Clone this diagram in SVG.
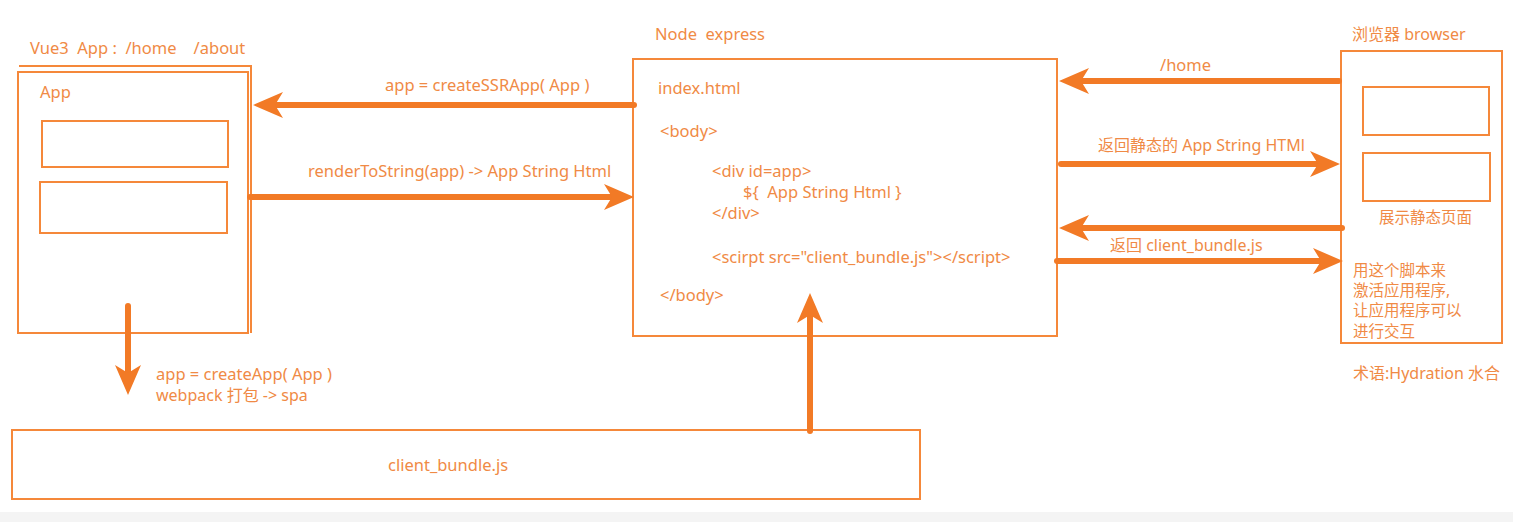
<svg xmlns="http://www.w3.org/2000/svg" width="1513" height="522" viewBox="0 0 1513 522">
<style>
  .box { fill: none; stroke: #F5883A; stroke-width: 2; }
  .arrow { fill: none; stroke: #F27A26; stroke-width: 6; stroke-linecap: round; }
  text { font-family: "Noto Sans", "Noto Sans CJK SC", sans-serif; font-size: 16.5px; fill: #F08A45; white-space: pre; }
  .cjk { font-size: 15.5px; }
  .mix { font-size: 16px; }
</style>
<defs>
  <marker id="head" viewBox="0 -14 32 28" refX="12" refY="0" markerWidth="32" markerHeight="28" markerUnits="userSpaceOnUse" orient="auto">
    <path d="M30,0 L0,-13 L8,0 L0,13 Z" fill="#F27A26"/>
  </marker>
</defs>
<rect width="1513" height="522" fill="#FFFFFF"/>
<rect x="0" y="512" width="1513" height="10" fill="#F4F4F4"/>

<g id="vue-app">
  <text x="30" y="54" xml:space="preserve">Vue3  App :  /home    /about</text>
  <polyline class="box" points="19,66 251,66 251,333"/>
  <rect class="box" x="18" y="72" width="230" height="261"/>
  <text x="40" y="98">App</text>
  <rect class="box" x="42" y="121" width="186" height="46"/>
  <rect class="box" x="40" y="182" width="187" height="51"/>
</g>

<g id="node-express">
  <text x="655" y="40" xml:space="preserve">Node  express</text>
  <rect class="box" x="633" y="59" width="424" height="277"/>
  <text x="658" y="94">index.html</text>
  <text x="660" y="137">&lt;body&gt;</text>
  <text x="712" y="177">&lt;div id=app&gt;</text>
  <text x="743" y="198" xml:space="preserve">${  App String Html }</text>
  <text x="712" y="219">&lt;/div&gt;</text>
  <text x="712" y="263">&lt;scirpt src="client_bundle.js"&gt;&lt;/script&gt;</text>
  <text x="660" y="301">&lt;/body&gt;</text>
</g>

<g id="browser">
  <text class="mix" x="1352" y="40">浏览器 browser</text>
  <rect class="box" x="1341" y="51" width="161" height="292"/>
  <rect class="box" x="1363" y="87" width="126" height="48"/>
  <rect class="box" x="1363" y="153" width="127" height="48"/>
  <text class="cjk" x="1379" y="223">展示静态页面</text>
  <text class="cjk" x="1353" y="276">用这个脚本来</text>
  <text class="cjk" x="1353" y="296">激活应用程序,</text>
  <text class="cjk" x="1353" y="316">让应用程序可以</text>
  <text class="cjk" x="1353" y="337">进行交互</text>
  <text class="mix" x="1353" y="379">术语:Hydration 水合</text>
</g>

<g id="client-bundle">
  <rect class="box" x="12" y="430" width="908" height="69"/>
  <text x="388" y="471">client_bundle.js</text>
</g>

<g id="connectors">
  <line class="arrow" x1="634" y1="105" x2="271" y2="105" marker-end="url(#head)"/>
  <text x="385" y="91">app = createSSRApp( App )</text>
  <line class="arrow" x1="250" y1="197" x2="616" y2="197" marker-end="url(#head)"/>
  <text x="308" y="177">renderToString(app) -&gt; App String Html</text>
  <line class="arrow" x1="1339" y1="81" x2="1077" y2="81" marker-end="url(#head)"/>
  <text x="1160" y="71">/home</text>
  <line class="arrow" x1="1061" y1="164" x2="1322" y2="164" marker-end="url(#head)"/>
  <text class="mix" x="1098" y="151">返回静态的 App String HTMl</text>
  <line class="arrow" x1="1342" y1="228" x2="1077" y2="228" marker-end="url(#head)"/>
  <line class="arrow" x1="1057" y1="261" x2="1325" y2="261" marker-end="url(#head)"/>
  <text class="mix" x="1110" y="251">返回 client_bundle.js</text>
  <line class="arrow" x1="128" y1="306" x2="128" y2="377" marker-end="url(#head)"/>
  <text x="156" y="380">app = createApp( App )</text>
  <text class="mix" x="156" y="401">webpack 打包 -&gt; spa</text>
  <line class="arrow" x1="810" y1="431" x2="810" y2="311" marker-end="url(#head)"/>
</g>
</svg>
